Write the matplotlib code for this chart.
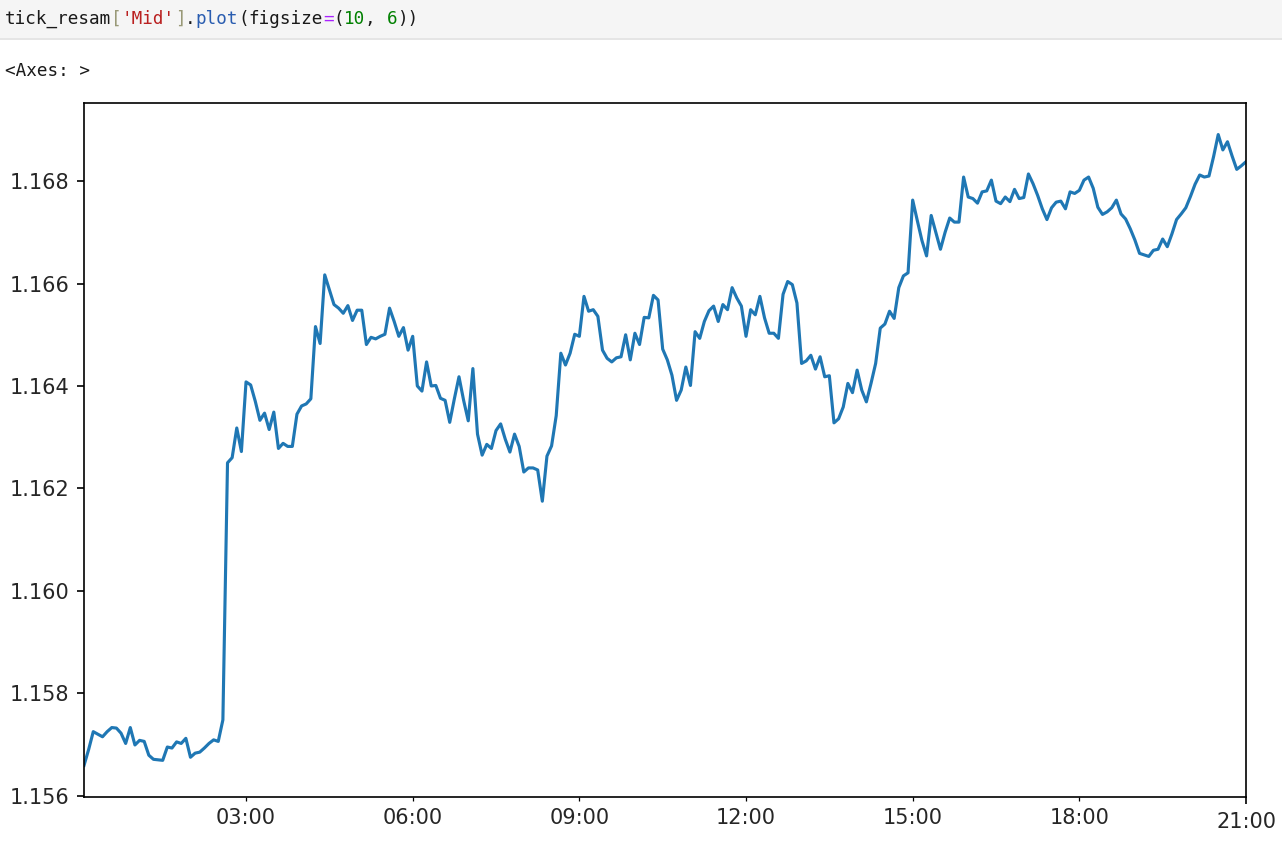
import numpy as np
import pandas as pd
import matplotlib
matplotlib.use("Agg")
import matplotlib.pyplot as plt
import matplotlib.dates as mdates
from matplotlib.ticker import FixedLocator, FuncFormatter
from matplotlib.patches import Rectangle
from matplotlib.lines import Line2D

# ---- data: 5-minute resampled mid price ----
start_time = "2020-01-01 00:05"
freq = "5min"
mid_values = [
    1.15659, 1.15690, 1.15725, 1.15720, 1.15715, 1.15725, 1.15733, 1.15732, 1.15722, 1.15702,
    1.15733, 1.15699, 1.15708, 1.15706, 1.15679, 1.15671, 1.15670, 1.15669, 1.15695, 1.15693,
    1.15705, 1.15702, 1.15712, 1.15675, 1.15683, 1.15685, 1.15693, 1.15702, 1.15709, 1.15706,
    1.15748, 1.16250, 1.16260, 1.16318, 1.16272, 1.16408, 1.16402, 1.16370, 1.16333, 1.16347,
    1.16315, 1.16349, 1.16278, 1.16288, 1.16282, 1.16282, 1.16345, 1.16361, 1.16365, 1.16375,
    1.16516, 1.16483, 1.16617, 1.16588, 1.16559, 1.16552, 1.16542, 1.16557, 1.16528, 1.16548,
    1.16548, 1.16481, 1.16495, 1.16492, 1.16497, 1.16501, 1.16552, 1.16526, 1.16497, 1.16514,
    1.16470, 1.16497, 1.16400, 1.16390, 1.16447, 1.16400, 1.16401, 1.16376, 1.16372, 1.16329,
    1.16375, 1.16418, 1.16372, 1.16332, 1.16434, 1.16306, 1.16265, 1.16286, 1.16278, 1.16313,
    1.16326, 1.16296, 1.16271, 1.16306, 1.16282, 1.16232, 1.16240, 1.16240, 1.16236, 1.16175,
    1.16263, 1.16283, 1.16342, 1.16464, 1.16441, 1.16464, 1.16501, 1.16497, 1.16575, 1.16546,
    1.16549, 1.16536, 1.16470, 1.16454, 1.16447, 1.16455, 1.16457, 1.16500, 1.16451, 1.16503,
    1.16481, 1.16534, 1.16533, 1.16577, 1.16568, 1.16472, 1.16451, 1.16421, 1.16372, 1.16392,
    1.16437, 1.16401, 1.16506, 1.16493, 1.16526, 1.16547, 1.16556, 1.16526, 1.16559, 1.16549,
    1.16592, 1.16572, 1.16556, 1.16497, 1.16549, 1.16539, 1.16575, 1.16533, 1.16503, 1.16503,
    1.16493, 1.16579, 1.16604, 1.16598, 1.16562, 1.16444, 1.16449, 1.16460, 1.16433, 1.16457,
    1.16418, 1.16420, 1.16328, 1.16336, 1.16359, 1.16405, 1.16387, 1.16431, 1.16392, 1.16369,
    1.16405, 1.16444, 1.16513, 1.16521, 1.16546, 1.16532, 1.16592, 1.16615, 1.16621, 1.16763,
    1.16723, 1.16684, 1.16654, 1.16733, 1.16700, 1.16667, 1.16700, 1.16728, 1.16720, 1.16720,
    1.16808, 1.16769, 1.16766, 1.16757, 1.16779, 1.16781, 1.16802, 1.16761, 1.16756, 1.16769,
    1.16760, 1.16784, 1.16766, 1.16768, 1.16814, 1.16795, 1.16772, 1.16746, 1.16725, 1.16748,
    1.16759, 1.16761, 1.16746, 1.16779, 1.16776, 1.16782, 1.16802, 1.16808, 1.16786, 1.16749,
    1.16735, 1.16740, 1.16748, 1.16763, 1.16736, 1.16726, 1.16707, 1.16685, 1.16659, 1.16656,
    1.16653, 1.16665, 1.16667, 1.16687, 1.16672, 1.16697, 1.16725, 1.16736, 1.16748, 1.16770,
    1.16794, 1.16812, 1.16808, 1.16810, 1.16848, 1.16891, 1.16861, 1.16877, 1.16849, 1.16823,
    1.16830, 1.16838,
]
minor_tick_labels = ["03:00", "06:00", "09:00", "12:00", "15:00", "18:00"]
major_tick_labels = ["21:00"]
code_line = [("tick_resam", "#1a1a1a"), ("[", "#999977"), ("'Mid'", "#ba2121"),
             ("]", "#999977"), (".", "#1a1a1a"), ("plot", "#2a5db0"), ("(", "#1a1a1a"),
             ("figsize", "#1a1a1a"), ("=", "#aa22ff"), ("(", "#1a1a1a"), ("10", "#008000"),
             (", ", "#1a1a1a"), ("6", "#008000"), ("))", "#1a1a1a")]
output_text = "<Axes: >"

# ---- figure ----
W, H, DPI = 1282, 844, 150
fig = plt.figure(figsize=(W / DPI, H / DPI), dpi=DPI)
fig.patch.set_facecolor("white")

# code cell background
fig.patches.append(Rectangle((0, 1 - 38 / H), 1, 38 / H, transform=fig.transFigure,
                             facecolor="#f5f5f5", edgecolor="none", zorder=0))
fig.lines.append(Line2D([0, 1], [1 - 39 / H, 1 - 39 / H], transform=fig.transFigure,
                        color="#e0e0e0", lw=0.8))

char_w = 10.6
fs_code = 8.45
x0 = 5
k = 0
for piece, col in code_line:
    fig.text((x0 + k * char_w) / W, 1 - 19 / H, piece, color=col, family="DejaVu Sans Mono",
             fontsize=fs_code, va="center", ha="left")
    k += len(piece)
fig.text(x0 / W, 1 - 71 / H, output_text, color="#1a1a1a", family="DejaVu Sans Mono",
         fontsize=fs_code, va="center", ha="left")

# ---- chart ----
times = pd.date_range(start_time, periods=len(mid_values), freq=freq)
series = pd.Series(mid_values, index=times, name="Mid")
tnum = mdates.date2num(series.index.to_pydatetime())

ax = fig.add_axes([84 / W, 1 - 797 / H, (1246 - 84) / W, (797 - 103) / H])
ax.plot(tnum, series.values, color="#1f77b4", lw=1.5)
ax.set_xlim(tnum[0], tnum[-1])

day0 = pd.Timestamp(start_time).normalize()
minor_pos = [mdates.date2num((day0 + pd.Timedelta(lbl + ":00")).to_pydatetime()) for lbl in minor_tick_labels]
major_pos = [mdates.date2num((day0 + pd.Timedelta(lbl + ":00")).to_pydatetime()) for lbl in major_tick_labels]
ax.xaxis.set_major_locator(FixedLocator(major_pos))
ax.xaxis.set_major_formatter(FuncFormatter(lambda v, p: mdates.num2date(v).strftime("%H:%M")))
ax.xaxis.set_minor_locator(FixedLocator(minor_pos))
ax.xaxis.set_minor_formatter(FuncFormatter(lambda v, p: mdates.num2date(v).strftime("%H:%M")))

for lbl in ax.get_xticklabels(which="both") + ax.get_yticklabels():
    lbl.set_color("#262626")

fig.savefig("out.png", dpi=DPI)
